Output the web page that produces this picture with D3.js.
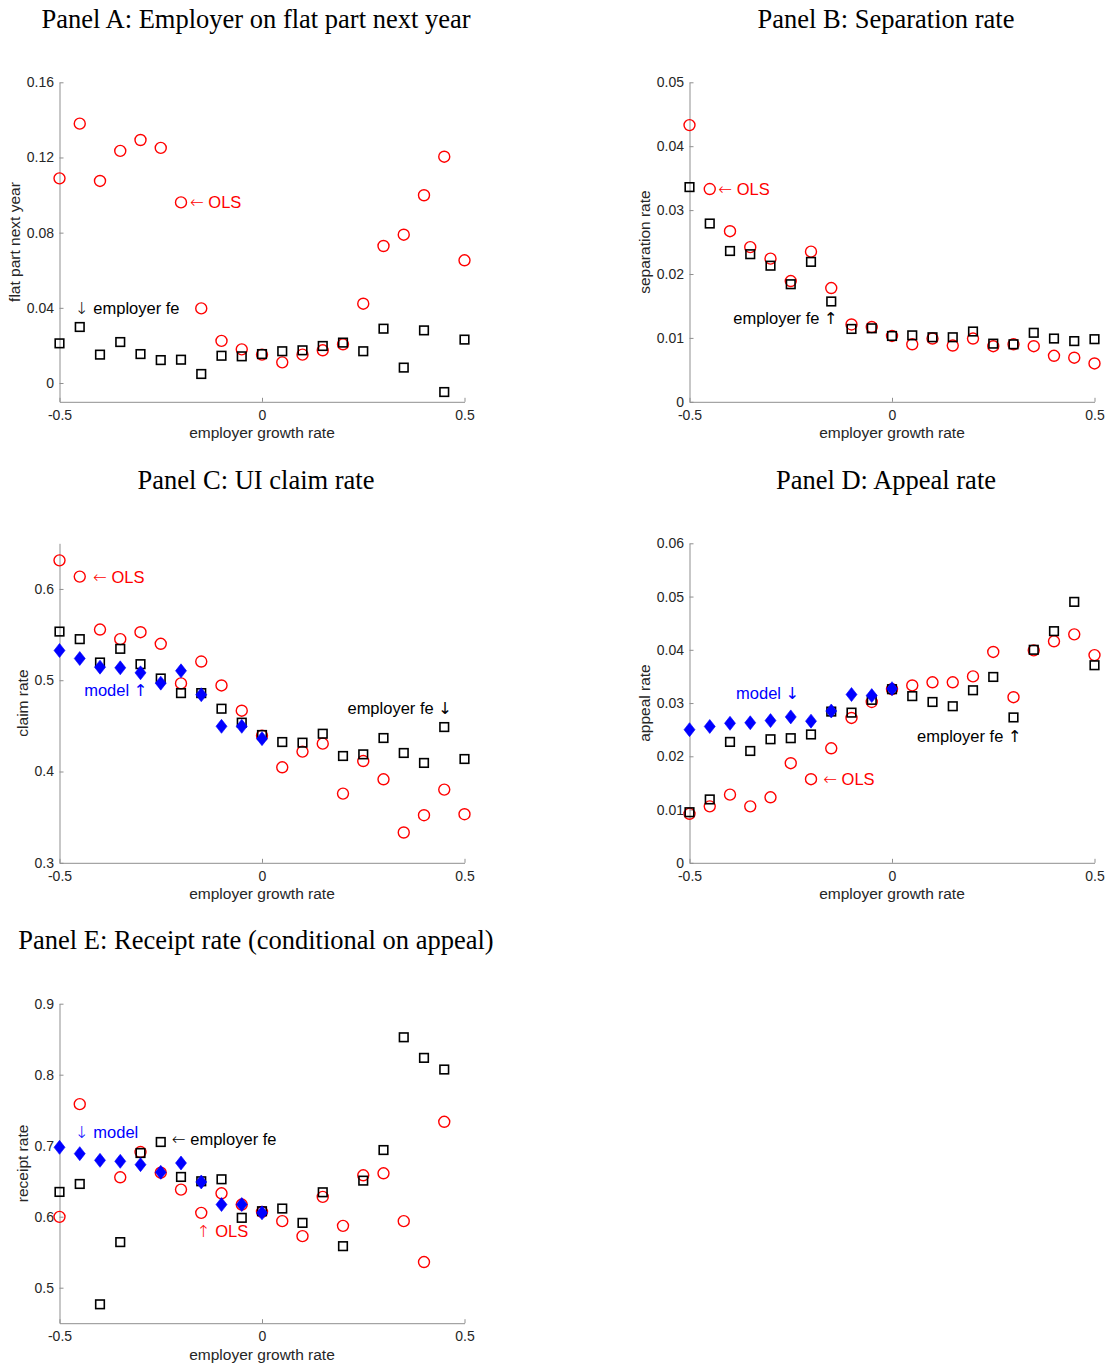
<!DOCTYPE html>
<html>
<head>
<meta charset="utf-8">
<script src="https://cdn.jsdelivr.net/npm/d3@7"></script>
<style>
  body { margin: 0; background: #fff; }
  svg text { font-family: "Liberation Sans", Arial, Helvetica, sans-serif; }
  svg text.title { font-family: "Liberation Serif", "Times New Roman", serif; }
  svg tspan.arrow { font-family: "DejaVu Sans", sans-serif; }
</style>
</head>
<body>
<svg id="fig" width="1108" height="1365"></svg>
<script>
// Employer growth rate bins
const growth = [-0.5, -0.45, -0.4, -0.35, -0.3, -0.25, -0.2, -0.15, -0.1, -0.05, 0,
                0.05, 0.1, 0.15, 0.2, 0.25, 0.3, 0.35, 0.4, 0.45, 0.5];
const growthNeg = [-0.5, -0.45, -0.4, -0.35, -0.3, -0.25, -0.2, -0.15, -0.1, -0.05, 0];
const growthE = [-0.5, -0.45, -0.4, -0.35, -0.3, -0.25, -0.2, -0.15, -0.1, -0.05, 0,
                 0.05, 0.1, 0.15, 0.2, 0.25, 0.3, 0.35, 0.4, 0.45];
const xTicks = [-0.5, 0, 0.5];

// Panel A: employer on flat part next year
const flatOLS = [0.1089, 0.138, 0.1075, 0.1235, 0.1293, 0.1251, 0.0961, 0.0397, 0.0224, 0.0179, 0.0151,
                 0.0110, 0.0151, 0.0174, 0.0206, 0.0422, 0.0729, 0.0789, 0.0999, 0.1204, 0.0653];
const flatFE  = [0.0211, 0.0298, 0.0151, 0.0218, 0.0154, 0.0122, 0.0124, 0.0048, 0.0145, 0.0142, 0.0154,
                 0.0169, 0.0174, 0.0197, 0.0215, 0.0169, 0.0289, 0.0082, 0.0280, -0.0048, 0.0231];
const flatTicks = [0, 0.04, 0.08, 0.12, 0.16];

// Panel B: separation rate
const sepOLS = [0.0433, 0.0333, 0.0267, 0.0242, 0.0224, 0.0189, 0.0235, 0.0178, 0.0121, 0.0117, 0.0103,
                0.0090, 0.0099, 0.0088, 0.0099, 0.0087, 0.0090, 0.0087, 0.0072, 0.0069, 0.0060];
const sepFE  = [0.0336, 0.0279, 0.0236, 0.0231, 0.0213, 0.0184, 0.0219, 0.0157, 0.0114, 0.0115, 0.0103,
                0.0104, 0.0101, 0.0101, 0.0110, 0.0091, 0.0090, 0.0108, 0.0099, 0.0095, 0.0098];
const sepTicks = [0, 0.01, 0.02, 0.03, 0.04, 0.05];

// Panel C: UI claim rate
const claimOLS = [0.6313, 0.6135, 0.5555, 0.545, 0.5526, 0.5399, 0.4965, 0.5205, 0.4943, 0.4666, 0.4393,
                  0.4046, 0.4218, 0.4305, 0.3758, 0.4115, 0.3915, 0.3332, 0.3521, 0.3802, 0.3532];
const claimFE  = [0.5533, 0.545, 0.5194, 0.5344, 0.5176, 0.5019, 0.4859, 0.4859, 0.4688, 0.4535, 0.440,
                  0.4323, 0.4316, 0.4414, 0.417, 0.4188, 0.4367, 0.4203, 0.4094, 0.4487, 0.4137];
const claimModel = [0.5326, 0.5238, 0.5143, 0.5136, 0.5081, 0.4968, 0.5103, 0.4841, 0.4495, 0.4495, 0.436];
const claimTicks = [0.3, 0.4, 0.5, 0.6];

// Panel D: appeal rate
const appealOLS = [0.0092, 0.0106, 0.0128, 0.0106, 0.0123, 0.0187, 0.0157, 0.0215, 0.0272, 0.0302, 0.0326,
                   0.0333, 0.0339, 0.0339, 0.0350, 0.0396, 0.0311, 0.0399, 0.0416, 0.0429, 0.0390];
const appealFE  = [0.0095, 0.0119, 0.0227, 0.0210, 0.0232, 0.0234, 0.0241, 0.0284, 0.0282, 0.0306, 0.0326,
                   0.0313, 0.0302, 0.0294, 0.0324, 0.0349, 0.0273, 0.0400, 0.0435, 0.0490, 0.0371];
const appealModel = [0.0250, 0.0256, 0.0262, 0.0263, 0.0267, 0.0274, 0.0266, 0.0285, 0.0316, 0.0314, 0.0327];
const appealTicks = [0, 0.01, 0.02, 0.03, 0.04, 0.05, 0.06];

// Panel E: receipt rate conditional on appeal (no OLS estimate in the -0.4 bin)
const receiptOLS = [0.5998, 0.7585, null, 0.6555, 0.6911, 0.662, 0.6382, 0.6054, 0.633, 0.6171, 0.6068,
                    0.5937, 0.5726, 0.6279, 0.5871, 0.6583, 0.6611, 0.5937, 0.5361, 0.7337];
const receiptFE  = [0.6349, 0.6461, 0.4766, 0.5642, 0.6897, 0.7052, 0.656, 0.6499, 0.6527, 0.5984, 0.6077,
                    0.6115, 0.5913, 0.6344, 0.5585, 0.6508, 0.6939, 0.8527, 0.8237, 0.8073];
const receiptModel = [0.6977, 0.6888, 0.6794, 0.678, 0.6733, 0.6625, 0.6756, 0.6489, 0.6171, 0.6171, 0.6054];
const receiptTicks = [0.5, 0.6, 0.7, 0.8, 0.9];

const RED = "#ff0000", BLUE = "#0000ff", BLACK = "#000000";

// Annotation parts: [arrow-before, label, arrow-after]
const panels = [
  { title: "Panel A: Employer on flat part next year", ylabel: "flat part next year",
    left: 59.5, top: 82.3, yDomain: [-0.01, 0.16], yTicks: flatTicks,
    ols: [growth, flatOLS], fe: [growth, flatFE], model: null,
    notes: [
      { pre: "\u2190", t: "OLS", x: -0.178, y: 0.0962, c: RED },
      { pre: "\u2193", t: "employer fe", x: -0.462, y: 0.0399, c: BLACK } ] },
  { title: "Panel B: Separation rate", ylabel: "separation rate",
    left: 689.5, top: 82.3, yDomain: [0, 0.05], yTicks: sepTicks,
    ols: [growth, sepOLS], fe: [growth, sepFE], model: null,
    notes: [
      { pre: "\u2190", t: "OLS", x: -0.429, y: 0.0333, c: RED },
      { post: "\u2191", t: "employer fe", x: -0.392, y: 0.0131, c: BLACK } ] },
  { title: "Panel C: UI claim rate", ylabel: "claim rate",
    left: 59.5, top: 543.3, yDomain: [0.3, 0.65], yTicks: claimTicks,
    ols: [growth, claimOLS], fe: [growth, claimFE], model: [growthNeg, claimModel],
    notes: [
      { pre: "\u2190", t: "OLS", x: -0.417, y: 0.613, c: RED },
      { post: "\u2191", t: "model", x: -0.439, y: 0.4892, c: BLUE },
      { post: "\u2193", t: "employer fe", x: 0.211, y: 0.4695, c: BLACK } ] },
  { title: "Panel D: Appeal rate", ylabel: "appeal rate",
    left: 689.5, top: 543.3, yDomain: [0, 0.06], yTicks: appealTicks,
    ols: [growth, appealOLS], fe: [growth, appealFE], model: [growthNeg, appealModel],
    notes: [
      { post: "\u2193", t: "model", x: -0.385, y: 0.0319, c: BLUE },
      { post: "\u2191", t: "employer fe", x: 0.062, y: 0.0238, c: BLACK },
      { pre: "\u2190", t: "OLS", x: -0.170, y: 0.0157, c: RED } ] },
  { title: "Panel E: Receipt rate (conditional on appeal)", ylabel: "receipt rate",
    left: 59.5, top: 1003.7, yDomain: [0.45, 0.9], yTicks: receiptTicks,
    ols: [growthE, receiptOLS], fe: [growthE, receiptFE], model: [growthNeg, receiptModel],
    notes: [
      { pre: "\u2193", t: "model", x: -0.462, y: 0.7183, c: BLUE },
      { pre: "\u2190", t: "employer fe", x: -0.2226, y: 0.7085, c: BLACK },
      { pre: "\u2191", t: "OLS", x: -0.161, y: 0.5793, c: RED } ] }
];

const W = 405, H = 319.5;
const svg = d3.select("#fig");
const fmt = d => d === 0 ? "0" : String(d);
const zip = (xs, ys) => xs.map((x, i) => [x, ys[i]]).filter(p => p[1] !== null);

panels.forEach(p => {
  const x = d3.scaleLinear().domain([-0.5, 0.5]).range([0, W]);
  const y = d3.scaleLinear().domain(p.yDomain).range([H, 0]);
  const g = svg.append("g").attr("transform", `translate(${p.left},${p.top})`);

  // axes: inward ticks, no box
  const xa = g.append("g").attr("transform", `translate(0,${H})`)
    .call(d3.axisBottom(x).tickValues(xTicks).tickFormat(fmt).tickSize(-4).tickSizeOuter(0).tickPadding(8));
  const ya = g.append("g")
    .call(d3.axisLeft(y).tickValues(p.yTicks).tickFormat(fmt).tickSize(-4).tickSizeOuter(0).tickPadding(5.5));
  [xa, ya].forEach(a => {
    a.select(".domain").attr("stroke", "#8f8f8f").attr("stroke-width", 1);
    a.selectAll(".tick line").attr("stroke", "#8f8f8f");
    a.selectAll(".tick text").attr("fill", "#262626").style("font-size", "14px");
  });

  // axis labels
  g.append("text").attr("x", W / 2).attr("y", H + 36.5)
    .attr("text-anchor", "middle").attr("fill", "#262626").style("font-size", "15.5px")
    .text("employer growth rate");
  const tickLeft = d3.min(ya.selectAll(".tick text").nodes(), n => n.getBBox().x);
  g.append("text")
    .attr("transform", `translate(${tickLeft - 6.5},${H / 2}) rotate(-90)`)
    .attr("text-anchor", "middle").attr("fill", "#262626").style("font-size", "15.5px")
    .text(p.ylabel);

  // title
  svg.append("text").attr("class", "title")
    .attr("x", p.left + W / 2 - 6).attr("y", p.top - 54.3)
    .attr("text-anchor", "middle").attr("fill", "#000").style("font-size", "26.5px")
    .text(p.title);

  // OLS estimates: red open circles
  g.append("g").selectAll("circle").data(zip(...p.ols)).join("circle")
    .attr("cx", d => x(d[0])).attr("cy", d => y(d[1])).attr("r", 5.5)
    .attr("fill", "none").attr("stroke", RED).attr("stroke-width", 1.4);

  // employer fixed-effect estimates: black open squares
  const s = 8.6;
  g.append("g").selectAll("rect").data(zip(...p.fe)).join("rect")
    .attr("x", d => x(d[0]) - s / 2).attr("y", d => y(d[1]) - s / 2)
    .attr("width", s).attr("height", s)
    .attr("fill", "none").attr("stroke", BLACK).attr("stroke-width", 1.6);

  // model predictions: filled blue diamonds
  if (p.model) {
    const diamond = "M0,-7L5.5,0L0,7L-5.5,0Z";
    g.append("g").selectAll("path").data(zip(...p.model)).join("path")
      .attr("transform", d => `translate(${x(d[0])},${y(d[1])})`)
      .attr("d", diamond).attr("fill", BLUE).attr("stroke", BLUE).attr("stroke-width", 0.6);
  }

  // series annotations
  const notes = g.append("g").selectAll("text").data(p.notes).join("text")
    .attr("x", d => x(d.x)).attr("y", d => y(d.y)).attr("dy", "0.35em")
    .attr("fill", d => d.c).style("font-size", "16.5px");
  notes.each(function (d) {
    const t = d3.select(this);
    if (d.pre) { t.append("tspan").attr("class", "arrow").attr("font-weight", 300).text(d.pre); t.append("tspan").text(" "); }
    t.append("tspan").text(d.t);
    if (d.post) { t.append("tspan").text(" "); t.append("tspan").attr("class", "arrow").text(d.post); }
  });
});
</script>
</body>
</html>
